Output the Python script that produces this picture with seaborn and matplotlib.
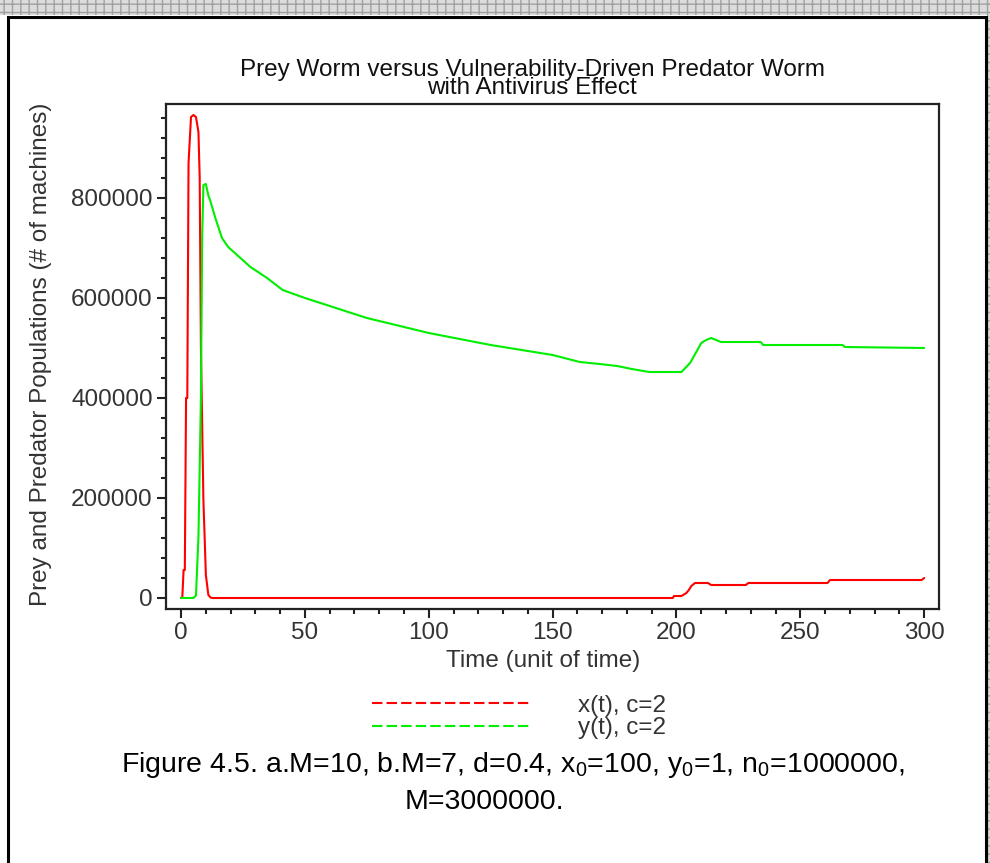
import matplotlib
matplotlib.use("Agg")
import matplotlib.pyplot as plt
from matplotlib import font_manager
from matplotlib.patches import Rectangle
from matplotlib.lines import Line2D
from matplotlib.ticker import MultipleLocator
import seaborn as sns
import pandas as pd

# ---- data ----
t_prey = [0, 0.5, 1, 1.5, 2, 2.5, 3, 4, 5, 6, 7, 7.5, 8, 9, 10, 11, 12, 13,
          100, 198.5, 199, 202, 204, 205, 206, 207.5, 212.7, 214, 228, 229,
          261, 262, 299, 300]
x_prey = [100, 2000, 56000, 56000, 400000, 400000, 870000, 962000, 966000, 962000,
          932000, 842000, 500000, 196000, 46000, 6000, 500, 0,
          0, 0, 4000, 4000, 10000, 16000, 24000, 30000, 30000, 26000, 26000, 30000,
          30000, 36000, 36000, 40000]

t_pred = [0, 5, 6, 7, 8, 8.5, 9, 10, 11, 11.7, 13.7, 16.5, 19, 28, 34.7, 41, 50,
          75, 100, 125, 150, 161, 169, 176, 182, 189, 202, 205.5, 208, 210, 212,
          214, 216, 218, 234, 235, 267, 268, 300]
y_pred = [1, 100, 5000, 122000, 400000, 720000, 826000, 828000, 805000, 796000,
          762000, 720000, 702000, 662000, 640000, 616000, 600000,
          560000, 530000, 506000, 486000, 472000, 468000, 464000, 458000, 452000,
          452000, 470000, 492000, 510000, 516000, 520000, 516000, 512000, 512000,
          506000, 506000, 502000, 500000]

series_labels = ["x(t), c=2", "y(t), c=2"]
title_text = ("Prey Worm versus Vulnerability-Driven Predator Worm\n"
              "with Antivirus Effect")
xlabel = "Time (unit of time)"
ylabel = "Prey and Predator Populations (# of machines)"
caption1 = "Figure 4.5. a.M=10, b.M=7, d=0.4, x$_0$=100, y$_0$=1, n$_0$=1000000,"
caption2 = "M=3000000."

sns.set_theme(style="ticks")
names = {f.name for f in font_manager.fontManager.ttflist}
base = "Liberation Sans" if "Liberation Sans" in names else "DejaVu Sans"
plt.rcParams["font.family"] = [base, "DejaVu Sans"]
plt.rcParams["mathtext.fontset"] = "custom"
plt.rcParams["mathtext.rm"] = base
plt.rcParams["mathtext.it"] = base
plt.rcParams["mathtext.default"] = "regular"

fig = plt.figure(figsize=(9.9, 8.63), dpi=100)
fig.patch.set_facecolor("white")

# hatched strips at top/right and page frame
fig.add_artist(Rectangle((0, 1 - 15 / 863), 1, 15 / 863, transform=fig.transFigure,
                         facecolor="#dcdcdc", edgecolor="#a0a0a0", hatch="++", lw=0))
fig.add_artist(Rectangle((987 / 990, 0), 3 / 990, 1, transform=fig.transFigure,
                         facecolor="#dcdcdc", edgecolor="#a0a0a0", hatch="++", lw=0))
fig.add_artist(Rectangle((8 / 990, -0.05), 978 / 990, 1.05 - 17 / 863,
                         transform=fig.transFigure, facecolor="none",
                         edgecolor="black", lw=2.2))

ax = fig.add_axes([166 / 990, 1 - 609 / 863, 773 / 990, 505 / 863])
df_x = pd.DataFrame({"t": t_prey, "v": x_prey})
df_y = pd.DataFrame({"t": t_pred, "v": y_pred})
sns.lineplot(data=df_x, x="t", y="v", ax=ax, color="#ff0000", lw=1.5,
             estimator=None, sort=False)
sns.lineplot(data=df_y, x="t", y="v", ax=ax, color="#00ee00", lw=1.5,
             estimator=None, sort=False)

ax.set_xlim(-6.1, 306)
ax.set_ylim(-22000, 988000)
ax.xaxis.set_major_locator(MultipleLocator(50))
ax.xaxis.set_minor_locator(MultipleLocator(10))
ax.yaxis.set_major_locator(MultipleLocator(200000))
ax.yaxis.set_minor_locator(MultipleLocator(40000))
ax.set_xlabel("")
ax.set_ylabel("")
for s in ax.spines.values():
    s.set_linewidth(1.6)
    s.set_color("#222222")
ax.tick_params(axis="both", which="major", length=6.5, width=1.5, color="#222222",
               labelsize=17.5, labelcolor="#333333", pad=3)
ax.tick_params(axis="both", which="minor", length=3.5, width=1.5, color="#222222")

# titles and labels
fig.text(532 / 990, 1 - 79 / 863, title_text, ha="center", va="center",
         fontsize=17.5, linespacing=0.8, color="#111111")
fig.text(543 / 990, 1 - 661 / 863, xlabel, ha="center", va="center",
         fontsize=17.5, color="#333333")
fig.text(41 / 990, 1 - 354 / 863, ylabel, ha="center", va="center",
         rotation=90, fontsize=17.5, color="#333333")

# legend
handles = [Line2D([], [], color="#ff0000", lw=1.5, ls=(0, (5, 2))),
           Line2D([], [], color="#00ee00", lw=1.5, ls=(0, (5, 2)))]
leg = fig.legend(handles, series_labels, loc="center",
                 bbox_to_anchor=(519 / 990, 1 - 717 / 863), frameon=False,
                 fontsize=17.5, handlelength=6.5, handletextpad=2.0,
                 labelspacing=0.0, labelcolor="#333333")

# caption
fig.text(513 / 990, 1 - 765 / 863, caption1, ha="center", va="center",
         fontsize=20.5, color="black")
fig.text(484 / 990, 1 - 802 / 863, caption2, ha="center", va="center",
         fontsize=20.5, color="black")

fig.savefig("out.png", dpi=100)
